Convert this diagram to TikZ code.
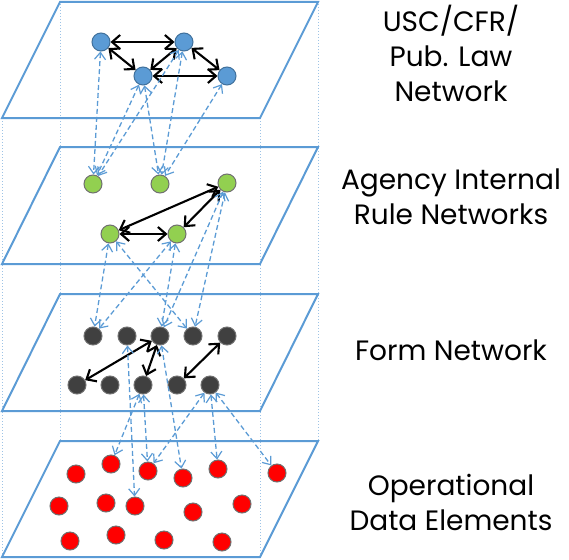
\documentclass[tikz,border=0pt]{standalone}
\usepackage{fontspec}
\setmainfont{Poppins}
\usetikzlibrary{arrows.meta}
\definecolor{pblue}{HTML}{5B9BD5}
\definecolor{pbluedk}{HTML}{41719C}
\definecolor{plight}{HTML}{9DC3E6}
\definecolor{pgreen}{HTML}{92D050}
\definecolor{pgray}{HTML}{404040}
\definecolor{pedge}{HTML}{707070}
\tikzset{
  plane/.style={draw=pblue,line width=2pt,line join=miter},
  guide/.style={draw=plight,line width=0.9pt,dash pattern=on 1pt off 2pt},
  nd/.style={circle,inner sep=0pt,minimum size=18pt,line width=1pt},
  bnode/.style={nd,fill=pblue,draw=pbluedk},
  gnode/.style={nd,fill=pgreen,draw=pedge},
  fnode/.style={nd,fill=pgray,draw=pedge},
  rnode/.style={nd,fill=red,draw=pedge},
  link/.style={draw=black,line width=2.1pt,{Straight Barb[length=8pt,width=14pt,line width=2.1pt]}-{Straight Barb[length=8pt,width=14pt,line width=2.1pt]}},
  vlink/.style={draw=pblue,line width=1.3pt,dash pattern=on 5pt off 3pt,{Straight Barb[length=7pt,width=11pt,line width=1.2pt]}-{Straight Barb[length=7pt,width=11pt,line width=1.2pt]}},
  lbl/.style={font=\fontsize{28}{35}\selectfont,align=center,text=black}
}
\begin{document}
\begin{tikzpicture}[x=1pt,y=-1pt]
\useasboundingbox (0,0) rectangle (569,559);
% guides
\draw[guide] (60,1) -- (60,441);
\draw[guide] (318,1) -- (318,441);
\draw[guide] (2,118) -- (2,557);
\draw[guide] (260,118) -- (260,557);
% planes
\draw[plane] (60,2) -- (318,2) -- (260,118) -- (2,118) -- cycle;
\draw[plane] (60,147) -- (318,147) -- (260,264) -- (2,264) -- cycle;
\draw[plane] (60,294) -- (318,294) -- (260,411) -- (2,411) -- cycle;
\draw[plane] (60,441) -- (318,441) -- (260,557) -- (2,557) -- cycle;
% top layer
\node[bnode] (A) at (101,42) {};
\node[bnode] (B) at (184,42) {};
\node[bnode] (C) at (143,76) {};
\node[bnode] (D) at (227,76) {};
% green layer
\node[gnode] (G1) at (93,184) {};
\node[gnode] (G2) at (160,184) {};
\node[gnode] (G3) at (227,183) {};
\node[gnode] (G4) at (110,234) {};
\node[gnode] (G5) at (177,234) {};
% form layer
\node[fnode] (F1) at (93,336) {};
\node[fnode] (F2) at (127,336) {};
\node[fnode] (F3) at (160,336) {};
\node[fnode] (F4) at (193,336) {};
\node[fnode] (F5) at (227,336) {};
\node[fnode] (F6) at (77,385) {};
\node[fnode] (F7) at (110,385) {};
\node[fnode] (F8) at (143,385) {};
\node[fnode] (F9) at (177,385) {};
\node[fnode] (F10) at (210,385) {};
% red layer
\node[rnode] (r1) at (76,474) {};
\node[rnode] (r2) at (111,464) {};
\node[rnode] (r3) at (148,471) {};
\node[rnode] (r4) at (183,478) {};
\node[rnode] (r5) at (218,469) {};
\node[rnode] (r6) at (277,473) {};
\node[rnode] (r7) at (59,506) {};
\node[rnode] (r8) at (106,503) {};
\node[rnode] (r9) at (135,506) {};
\node[rnode] (r10) at (193,512) {};
\node[rnode] (r11) at (242,504) {};
\node[rnode] (r12) at (70,541) {};
\node[rnode] (r13) at (116,535) {};
\node[rnode] (r14) at (164,540) {};
\node[rnode] (r15) at (222,542) {};
% black links
\draw[link] (A) -- (B);
\draw[link] (A) -- (C);
\draw[link] (B) -- (C);
\draw[link] (C) -- (D);
\draw[link] (B) -- (D);
\draw[link] (G4) -- (G3);
\draw[link] (G3) -- (G5);
\draw[link] (G4) -- (G5);
\draw[link] (F3) -- (F6);
\draw[link] (F3) -- (F8);
\draw[link] (F5) -- (F9);
% dashed vertical links
\draw[vlink] (A) -- (G1);
\draw[vlink] (C) -- (G1);
\draw[vlink] (B) -- (G1);
\draw[vlink] (C) -- (G2);
\draw[vlink] (B) -- (G2);
\draw[vlink] (D) -- (G2);
\draw[vlink] (G4) -- (F1);
\draw[vlink] (G5) -- (F1);
\draw[vlink] (G4) -- (F4);
\draw[vlink] (G5) -- (F3);
\draw[vlink] (G3) -- (F3);
\draw[vlink] (G3) -- (F4);
\draw[vlink] (F2) -- (r9);
\draw[vlink] (F3) -- (r4);
\draw[vlink] (F8) -- (r2);
\draw[vlink] (F8) -- (r3);
\draw[vlink] (F10) -- (r3);
\draw[vlink] (F10) -- (r5);
\draw[vlink] (F10) -- (r6);
% labels
\node[lbl] (t1) at (451,53) {USC/CFR/\\Pub. Law\\Network};
\node[lbl] (t2) at (451,197) {Agency Internal\\Rule Networks};
\node[lbl] (t3) at (451,350) {Form Network};
\node[lbl] (t4) at (451,502) {Operational\\Data Elements};
\end{tikzpicture}
\end{document}
